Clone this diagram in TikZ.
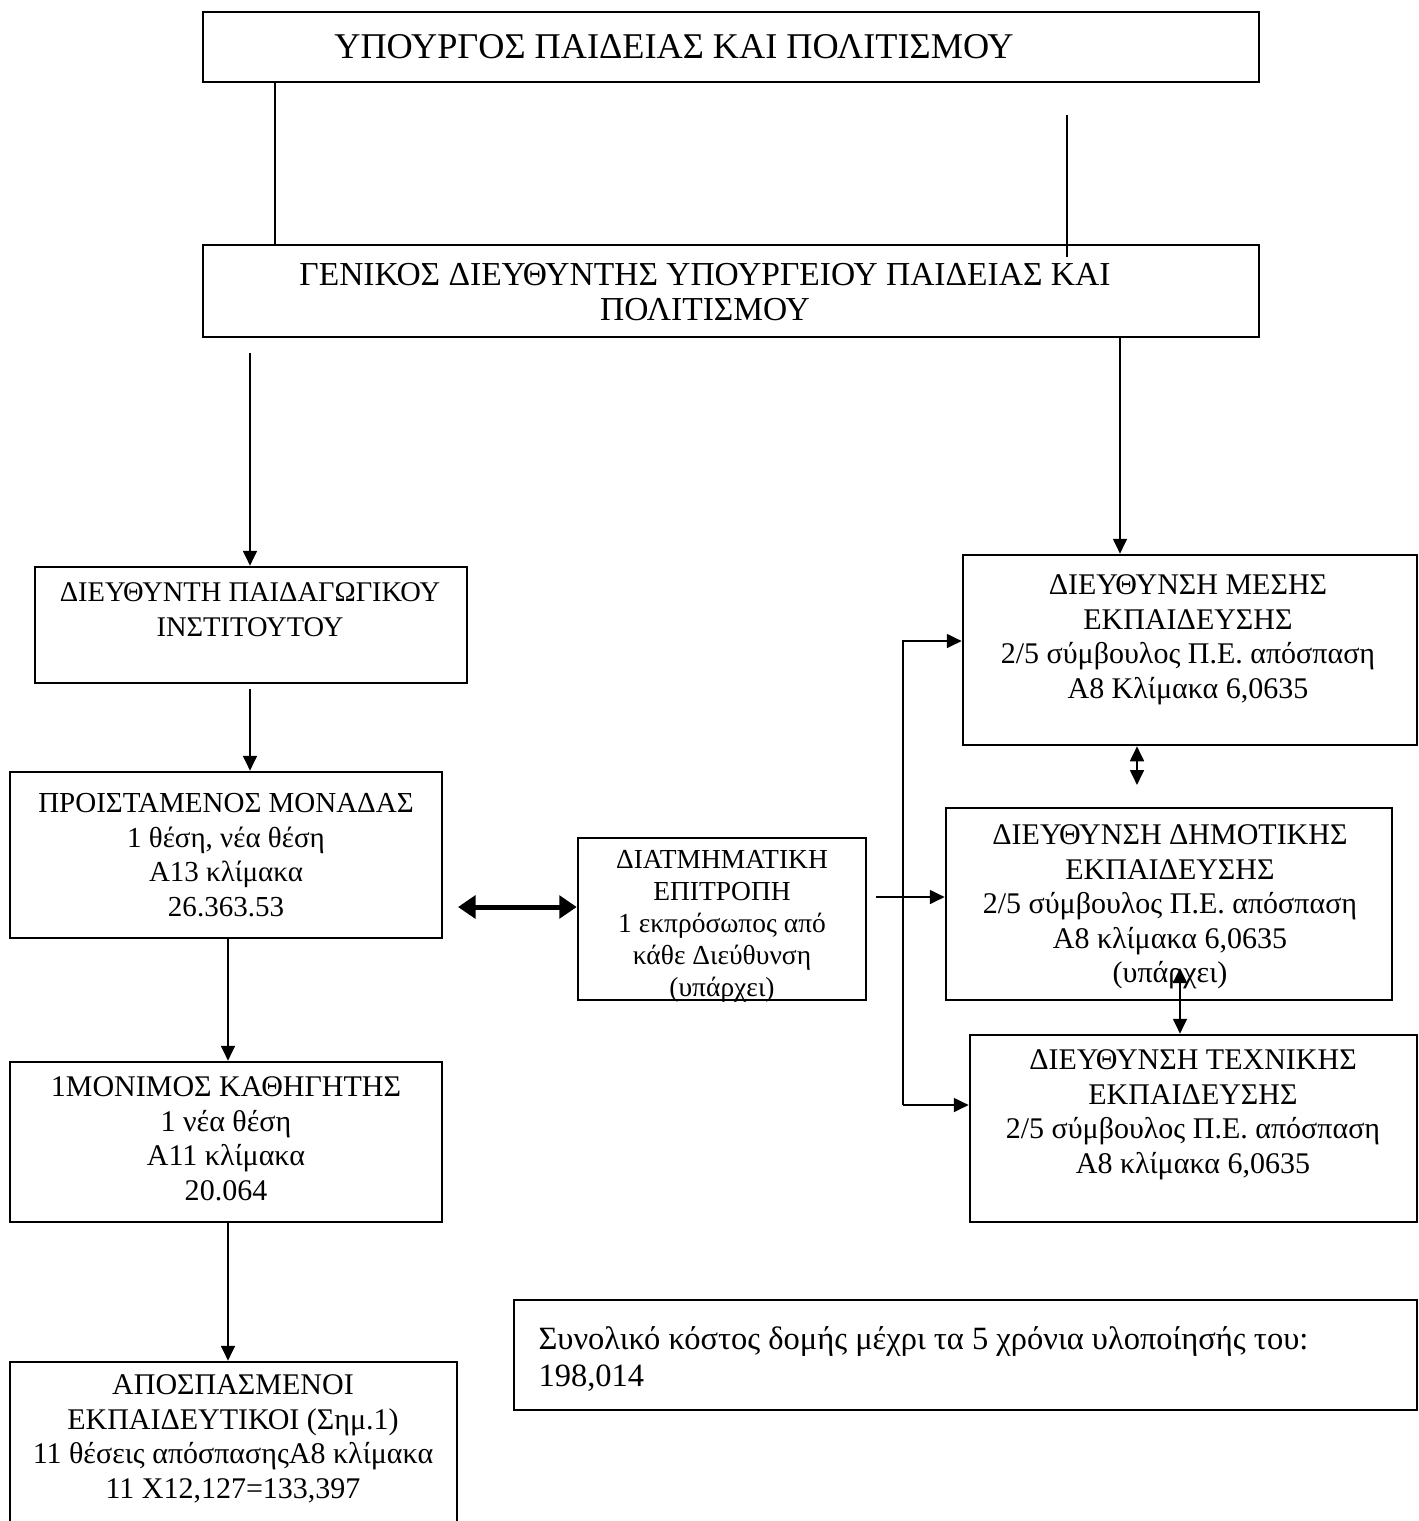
\documentclass[tikz,border=0pt]{standalone}
\usepackage{fontspec}
\setmainfont{Liberation Serif}
\usetikzlibrary{arrows.meta,fit}
\begin{document}
\begin{tikzpicture}[x=0.4pt,y=-0.4pt,
    box/.style={draw,line width=1pt,inner sep=0pt},
    lbl/.style={align=center,inner sep=0pt,font=\fontsize{12}{13.8}\selectfont},
    smalllbl/.style={align=center,inner sep=0pt,font=\fontsize{11}{12.8}\selectfont},
    arr/.style={line width=1pt,-{Triangle[length=6pt,width=5.5pt]}},
    twoway/.style={line width=1pt,{Triangle[length=6pt,width=5.5pt]}-{Triangle[length=6pt,width=5.5pt]}},
    thickway/.style={line width=2pt,{Triangle[length=7pt,width=9pt]}-{Triangle[length=7pt,width=9pt]}}]
  \useasboundingbox (0,0) rectangle (1419,1521);
  \clip (0,0) rectangle (1419,1521);

  \node[box, fit={(203,12) (1259,82)}] (min) {};
  \node[lbl, font=\fontsize{14.5}{16}\selectfont] (minT) at (674,47) {ΥΠΟΥΡΓΟΣ ΠΑΙΔΕΙΑΣ ΚΑΙ ΠΟΛΙΤΙΣΜΟΥ};

  \node[box, fit={(203,245) (1259,337)}] (gen) {};
  \node[lbl, font=\fontsize{13.4}{14}\selectfont] (genT) at (705,292) {ΓΕΝΙΚΟΣ ΔΙΕΥΘΥΝΤΗΣ ΥΠΟΥΡΓΕΙΟΥ ΠΑΙΔΕΙΑΣ ΚΑΙ\\ΠΟΛΙΤΙΣΜΟΥ};

  \node[box, fit={(35,567) (467,683)}] (inst) {};
  \node[smalllbl, font=\fontsize{11.4}{14}\selectfont] (instT) at (250,610) {ΔΙΕΥΘΥΝΤΗ ΠΑΙΔΑΓΩΓΙΚΟΥ\\ΙΝΣΤΙΤΟΥΤΟΥ};

  \node[box, fit={(10,772) (442,938)}] (unit) {};
  \node[lbl, font=\fontsize{11.6}{13.8}\selectfont] (unitT) at (226,855) {ΠΡΟΙΣΤΑΜΕΝΟΣ ΜΟΝΑΔΑΣ\\1 θέση, νέα θέση\\Α13 κλίμακα\\26.363.53};

  \node[box, fit={(578,838) (866,1000)}] (com) {};
  \node[smalllbl] (comT) at (722,926) {ΔΙΑΤΜΗΜΑΤΙΚΗ\\ΕΠΙΤΡΟΠΗ\\1 εκπρόσωπος από\\κάθε Διεύθυνση\\(υπάρχει)};

  \node[box, fit={(10,1062) (442,1222)}] (prof) {};
  \node[lbl] (profT) at (226,1139) {1ΜΟΝΙΜΟΣ ΚΑΘΗΓΗΤΗΣ\\1 νέα θέση\\Α11 κλίμακα\\20.064};

  \node[box, fit={(10,1362) (457,1560)}] (sec) {};
  \node[lbl] (secT) at (233,1439) {ΑΠΟΣΠΑΣΜΕΝΟΙ\\ΕΚΠΑΙΔΕΥΤΙΚΟΙ (Σημ.1)\\11 θέσεις απόσπασηςΑ8 κλίμακα\\11 Χ12,127=133,397};

  \node[box, fit={(963,555) (1417,745)}] (mes) {};
  \node[lbl] (mesT) at (1188,640) {ΔΙΕΥΘΥΝΣΗ ΜΕΣΗΣ\\ΕΚΠΑΙΔΕΥΣΗΣ\\2/5 σύμβουλος Π.Ε. απόσπαση\\Α8 Κλίμακα 6,0635};

  \node[box, fit={(946,808) (1392,1000)}] (dim) {};
  \node[lbl] (dimT) at (1170,907) {ΔΙΕΥΘΥΝΣΗ ΔΗΜΟΤΙΚΗΣ\\ΕΚΠΑΙΔΕΥΣΗΣ\\2/5 σύμβουλος Π.Ε. απόσπαση\\Α8 κλίμακα 6,0635\\(υπάρχει)};

  \node[box, fit={(970,1035) (1417,1222)}] (tech) {};
  \node[lbl] (techT) at (1193,1115) {ΔΙΕΥΘΥΝΣΗ ΤΕΧΝΙΚΗΣ\\ΕΚΠΑΙΔΕΥΣΗΣ\\2/5 σύμβουλος Π.Ε. απόσπαση\\Α8 κλίμακα 6,0635};

  \node[box, fit={(514,1300) (1417,1410)}] (cost) {};
  \node[lbl, align=left, anchor=west, font=\fontsize{13}{15}\selectfont] (costT) at (538,1359) {Συνολικό κόστος δομής μέχρι τα 5 χρόνια υλοποίησής του:\\198,014};

  \coordinate (l1) at (275,0);
  \coordinate (l2a) at (1067,115);
  \coordinate (l2b) at (1067,257);
  \draw[line width=1pt] (min.south -| l1) -- (gen.north -| l1);
  \draw[line width=1pt] (l2a) -- (l2b);

  \coordinate (g1) at (250,353);
  \coordinate (g2) at (1120,0);
  \draw[arr] (g1) -- (g1 |- inst.north);
  \draw[arr] (gen.south -| g2) -- (mes.north -| g2);

  \draw[arr] ([yshift=-2pt]inst.south -| g1) -- (unit.north -| g1);
  \coordinate (v1) at (228,0);
  \draw[arr] (unit.south -| v1) -- (prof.north -| v1);
  \draw[arr] (prof.south -| v1) -- (sec.north -| v1);

  \coordinate (d1) at (458,907);
  \draw[thickway] (d1) -- (d1 -| com.west);

  \coordinate (c1) at (876,897);
  \draw[arr] (c1) -- (c1 -| dim.west);
  \coordinate (bt) at (903,641);
  \coordinate (bb) at (903,1105);
  \draw[arr] (bb) -- (bt) -- (bt -| mes.west);
  \draw[arr] (bb) -- (bb -| tech.west);

  \coordinate (m1) at (1137,785);
  \draw[twoway] (mes.south -| m1) -- (m1);
  \coordinate (t1) at (1180,968);
  \draw[twoway] (t1) -- (t1 |- tech.north);
\end{tikzpicture}
\end{document}
